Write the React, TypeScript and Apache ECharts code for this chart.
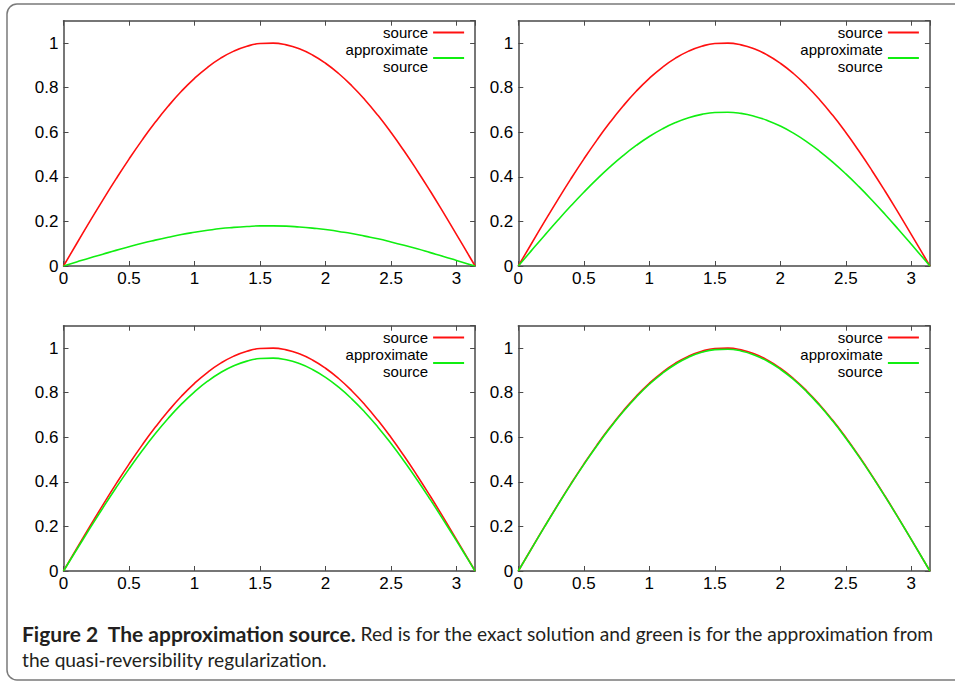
import React, { useEffect, useRef } from "react";
import * as echarts from "echarts";

// x positions (radians) at which the curves were read
const xValues = [
  0, 0.1, 0.2, 0.3, 0.4, 0.5, 0.6, 0.7, 0.8, 0.9, 1.0, 1.1, 1.2, 1.3, 1.4, 1.5,
  1.6, 1.7, 1.8, 1.9, 2.0, 2.1, 2.2, 2.3, 2.4, 2.5, 2.6, 2.7, 2.8, 2.9, 3.0, 3.1, 3.1416,
];

// exact source (red), identical in all four panels
const sourceValues = [
  0, 0.0998, 0.1987, 0.2955, 0.3894, 0.4794, 0.5646, 0.6442, 0.7174, 0.7833, 0.8415,
  0.8912, 0.932, 0.9636, 0.9854, 0.9975, 0.9996, 0.9917, 0.9738, 0.9463, 0.9093,
  0.8632, 0.8085, 0.7457, 0.6755, 0.5985, 0.5155, 0.4274, 0.335, 0.2392, 0.1411, 0.0416, 0,
];

// approximate source (green), one array per panel
const approxTopLeft = [
  0, 0.018, 0.036, 0.053, 0.07, 0.086, 0.102, 0.116, 0.129, 0.141, 0.151, 0.16, 0.168,
  0.173, 0.177, 0.18, 0.18, 0.179, 0.175, 0.17, 0.164, 0.155, 0.146, 0.134, 0.122, 0.108,
  0.093, 0.077, 0.06, 0.043, 0.025, 0.007, 0,
];
const approxTopRight = [
  0, 0.0689, 0.1371, 0.2039, 0.2687, 0.3308, 0.3896, 0.4445, 0.495, 0.5405, 0.5806,
  0.6149, 0.6431, 0.6649, 0.6799, 0.6883, 0.6897, 0.6843, 0.6719, 0.6529, 0.6274,
  0.5956, 0.5579, 0.5145, 0.4661, 0.413, 0.3557, 0.2949, 0.2312, 0.165, 0.0974, 0.0287, 0,
];
const approxBottomLeft = [
  0, 0.0953, 0.1897, 0.2822, 0.3719, 0.4578, 0.5392, 0.6152, 0.6851, 0.7481, 0.8036,
  0.8511, 0.8901, 0.9202, 0.9411, 0.9526, 0.9546, 0.9471, 0.93, 0.9037, 0.8684,
  0.8244, 0.7721, 0.7121, 0.6451, 0.5716, 0.4923, 0.4082, 0.3199, 0.2284, 0.1348, 0.0397, 0,
];
const approxBottomRight = [
  0, 0.0993, 0.1977, 0.294, 0.3875, 0.477, 0.5618, 0.641, 0.7138, 0.7794, 0.8373,
  0.8867, 0.9273, 0.9588, 0.9805, 0.9925, 0.9946, 0.9867, 0.9689, 0.9416, 0.9047,
  0.8589, 0.8045, 0.742, 0.6721, 0.5955, 0.5129, 0.4253, 0.3333, 0.238, 0.1404, 0.0414, 0,
];

const seriesNames = ["source", "approximate source"];
const xMin = 0;
const xMax = 3.1416;
const xInterval = 0.5;
const yMin = 0;
const yMax = 1.1;
const yInterval = 0.2;

const captionBold = "Figure 2\u00a0\u00a0The approximation source.";
const captionRest =
  " Red is for the exact solution and green is for the approximation from\nthe quasi-reversibility regularization.";

const FONT = "'Liberation Sans', Arial, Helvetica, sans-serif";
const CAPTION_FONT = "Lato, 'Open Sans', sans-serif";

export default function App() {
  const ref = useRef<HTMLDivElement>(null);

  useEffect(() => {
    if (!ref.current) return;
    const chart = echarts.init(ref.current, undefined, { renderer: "svg" });

    const panels = [
      { approx: approxTopLeft, left: 63.5, top: 20.7 },
      { approx: approxTopRight, left: 518.3, top: 20.7 },
      { approx: approxBottomLeft, left: 63.5, top: 325.7 },
      { approx: approxBottomRight, left: 518.3, top: 325.7 },
    ];
    const gw = 411.6;
    const gh = 245.3;
    const axisColor = "#4a4a4a";

    const grid: any[] = [];
    const xAxis: any[] = [];
    const yAxis: any[] = [];
    const series: any[] = [];
    const legend: any[] = [];

    const toPairs = (ys: number[]) => xValues.map((x, i) => [x, ys[i]]);

    panels.forEach((p, i) => {
      grid.push({ left: p.left, top: p.top, width: gw, height: gh, containLabel: false });
      const baseX = {
        type: "value",
        gridIndex: i,
        min: xMin,
        max: xMax,
        interval: xInterval,
        splitLine: { show: false },
        axisLine: { show: true, onZero: false, lineStyle: { color: axisColor, width: 1.5 } },
        axisTick: { show: true, inside: true, length: 5, lineStyle: { color: axisColor, width: 1 } },
      };
      xAxis.push({
        ...baseX,
        position: "bottom",
        axisLabel: {
          show: true,
          margin: 4,
          color: "#000",
          fontSize: 17,
          fontFamily: FONT,
          showMaxLabel: false,
          formatter: (v: number) => (v > 3.1 ? "" : String(v)),
        },
      });
      xAxis.push({ ...baseX, position: "top", axisLabel: { show: false } });
      const baseY = {
        type: "value",
        gridIndex: i,
        min: yMin,
        max: yMax,
        interval: yInterval,
        splitLine: { show: false },
        axisLine: { show: true, onZero: false, lineStyle: { color: axisColor, width: 1.5 } },
        axisTick: { show: true, inside: true, length: 5, lineStyle: { color: axisColor, width: 1 } },
      };
      yAxis.push({
        ...baseY,
        position: "left",
        axisLabel: {
          show: true,
          margin: 5,
          color: "#000",
          fontSize: 17,
          fontFamily: FONT,
          showMaxLabel: false,
          formatter: (v: number) => (v > 1.05 ? "" : String(Math.round(v * 10) / 10)),
        },
      });
      yAxis.push({ ...baseY, position: "right", axisLabel: { show: false } });

      series.push({
        type: "line",
        name: seriesNames[0],
        xAxisIndex: i * 2,
        yAxisIndex: i * 2,
        data: toPairs(sourceValues),
        smooth: true,
        showSymbol: false,
        symbol: "none",
        color: "#ff1010",
        lineStyle: { color: "#ff1010", width: 1.6 },
        z: 2,
      });
      series.push({
        type: "line",
        name: seriesNames[1],
        xAxisIndex: i * 2,
        yAxisIndex: i * 2,
        data: toPairs(p.approx),
        smooth: true,
        showSymbol: false,
        symbol: "none",
        color: "#10ee10",
        lineStyle: { color: "#10ee10", width: 1.6 },
        z: 3,
      });

      const rightEdge = p.left + gw;
      legend.push({
        data: seriesNames,
        orient: "vertical",
        align: "right",
        right: 955 - (rightEdge - 11),
        top: p.top + 3.3,
        padding: 0,
        itemGap: 0,
        itemWidth: 31,
        itemHeight: 2,
        icon: "rect",
        selectedMode: false,
        formatter: (name: string) => (name === seriesNames[1] ? "approximate\nsource" : name),
        textStyle: { fontSize: 15, lineHeight: 17, color: "#000", fontFamily: FONT },
      });
    });

    chart.setOption({
      animation: false,
      backgroundColor: "#fff",
      grid,
      xAxis,
      yAxis,
      series,
      legend,
      graphic: [
        {
          type: "rect",
          shape: { x: 7, y: 4, width: 960, height: 676, r: 10 },
          style: { fill: "none", stroke: "#7a7a7a", lineWidth: 1.5 },
          silent: true,
        },
        {
          type: "text",
          x: 22,
          y: 620,
          style: {
            text: "{b|" + captionBold + "}" + captionRest,
            fontFamily: CAPTION_FONT,
            fontSize: 19.2,
            lineHeight: 26,
            fill: "#231f20",
            rich: {
              b: {
                fontFamily: CAPTION_FONT,
                fontWeight: "bold",
                fontSize: 21,
                lineHeight: 26,
                fill: "#231f20",
              },
            },
          },
          silent: true,
        },
      ],
    });

    return () => chart.dispose();
  }, []);

  return (
    <div
      ref={ref}
      style={{ position: "absolute", left: 0, top: 0, width: 955, height: 683, background: "#fff" }}
    />
  );
}
